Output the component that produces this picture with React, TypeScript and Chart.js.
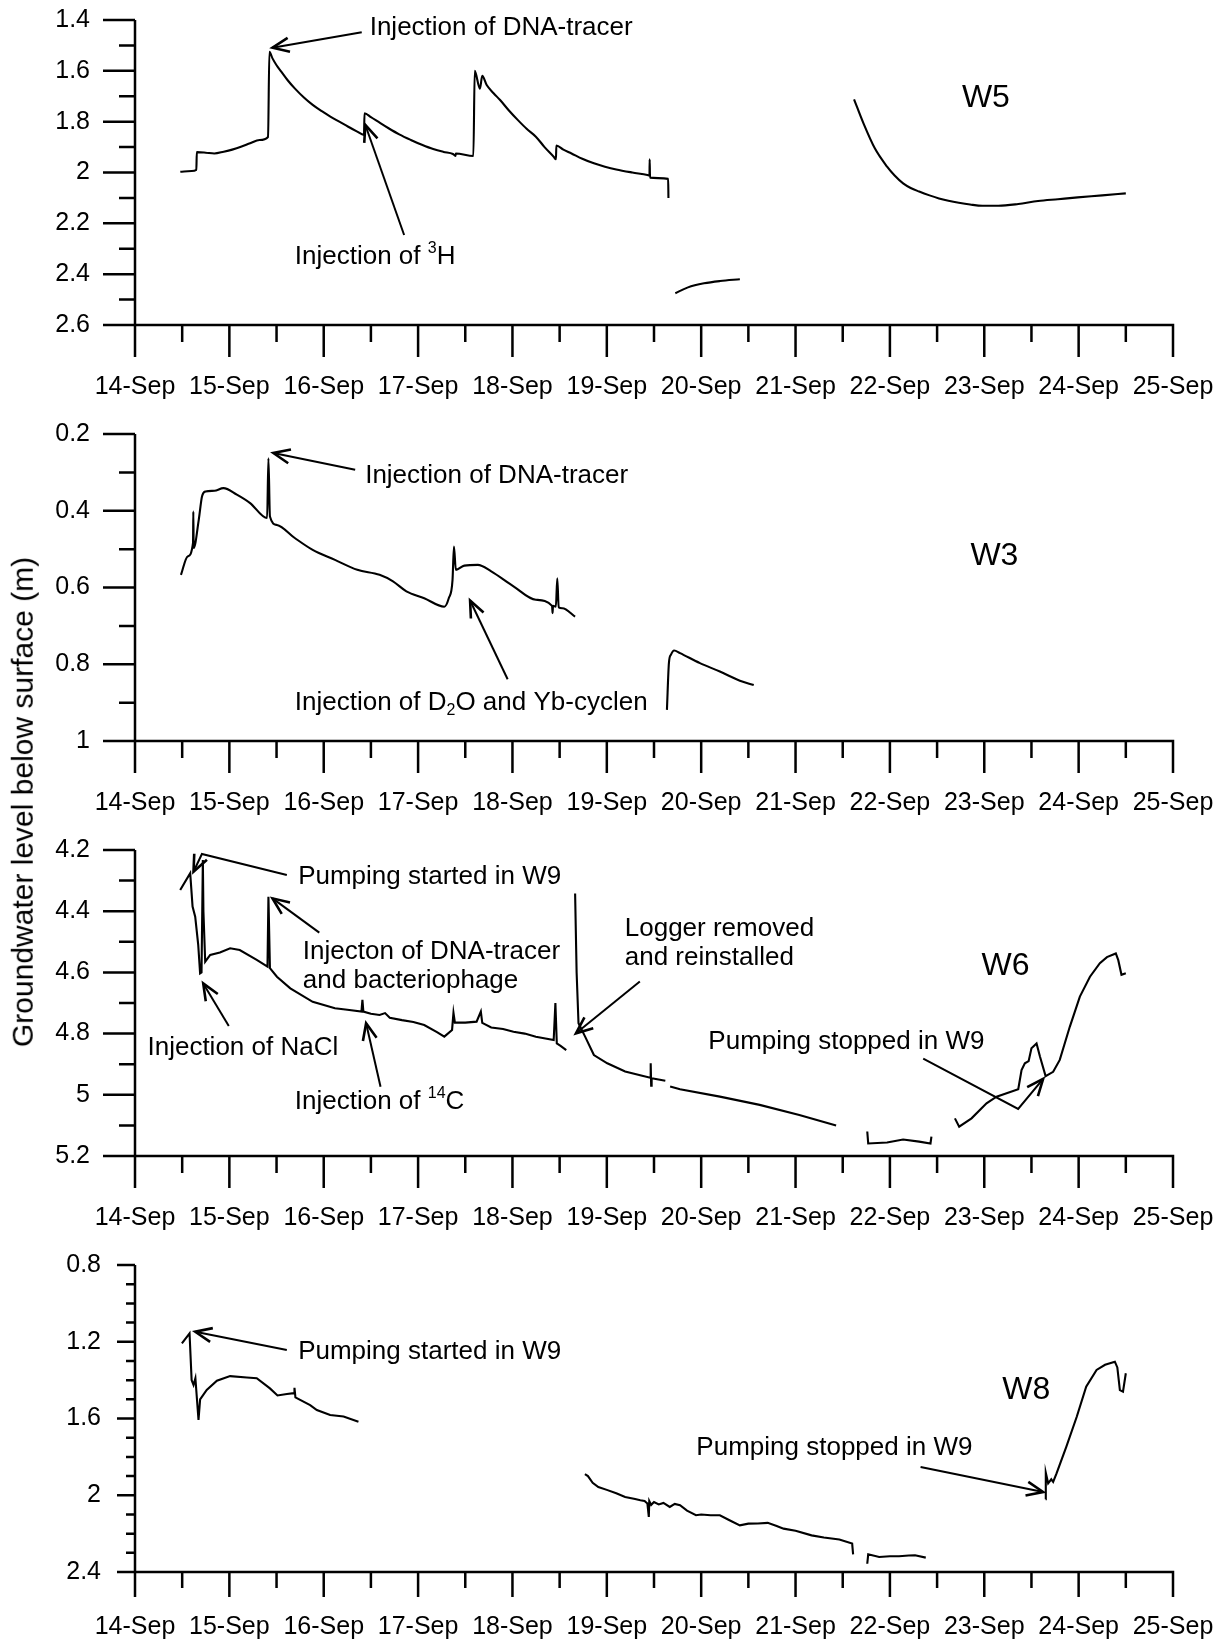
import React, { useEffect, useRef } from "react";
import { Chart, registerables } from "chart.js";

Chart.register(...registerables);

const FONT = "'Liberation Sans', Arial, Helvetica, sans-serif";
Chart.defaults.font.family = FONT;
Chart.defaults.color = "#000";

// ---------- x axis (days of September) ----------
const X_TICKS = [14, 15, 16, 17, 18, 19, 20, 21, 22, 23, 24, 25];
const X_MONTH = "Sep";

// ---------- W5 ----------
const W5_Y_TICKS = [1.4, 1.6, 1.8, 2, 2.2, 2.4, 2.6];
const W5_A: [number, number][] = [
  [14.48, 1.997], [14.6, 1.994], [14.65, 1.99], [14.655, 1.92], [14.75, 1.922], [14.84, 1.925],
  [14.94, 1.918], [15.03, 1.91], [15.13, 1.898], [15.22, 1.885], [15.32, 1.872], [15.41, 1.86],
  [15.424, 1.525], [15.457, 1.551], [15.5, 1.578], [15.55, 1.603], [15.62, 1.638], [15.693, 1.669],
  [15.79, 1.705], [15.883, 1.734], [15.98, 1.759], [16.07, 1.78], [16.17, 1.801], [16.26, 1.82],
  [16.35, 1.838], [16.427, 1.852], [16.432, 1.767], [16.5, 1.782], [16.6, 1.806], [16.687, 1.826],
  [16.8, 1.85], [16.923, 1.872], [17.04, 1.891], [17.16, 1.908], [17.27, 1.919], [17.37, 1.927],
  [17.396, 1.935], [17.4, 1.925], [17.586, 1.935], [17.6, 1.6], [17.655, 1.67], [17.68, 1.62],
  [17.727, 1.656], [17.8, 1.688], [17.869, 1.715], [17.96, 1.755], [18.058, 1.794], [18.15, 1.828],
  [18.248, 1.859], [18.34, 1.9], [18.437, 1.938], [18.461, 1.948], [18.465, 1.894], [18.54, 1.91],
  [18.626, 1.925], [18.74, 1.946], [18.863, 1.964], [18.98, 1.977], [19.1, 1.988], [19.27, 2.0],
  [19.43, 2.01], [19.452, 2.012], [19.454, 1.948], [19.458, 2.02], [19.65, 2.025], [19.653, 2.1],
];
const W5_B: [number, number][] = [
  [19.726, 2.475], [19.86, 2.452], [20.03, 2.436], [20.2, 2.427], [20.41, 2.42],
];
const W5_C: [number, number][] = [
  [21.62, 1.712], [21.72, 1.807], [21.84, 1.905], [21.97, 1.977], [22.05, 2.012], [22.14, 2.043],
  [22.22, 2.061], [22.31, 2.075], [22.42, 2.09], [22.52, 2.102], [22.62, 2.111], [22.73, 2.119],
  [22.85, 2.126], [22.98, 2.131], [23.15, 2.131], [23.36, 2.124], [23.57, 2.112], [23.78, 2.105],
  [23.99, 2.098], [24.25, 2.09], [24.5, 2.082],
];

// ---------- W3 ----------
const W3_Y_TICKS = [0.2, 0.4, 0.6, 0.8, 1];
const W3_A: [number, number][] = [
  [14.487, 0.567], [14.558, 0.519], [14.615, 0.484], [14.618, 0.402], [14.622, 0.497], [14.676, 0.423],
  [14.71, 0.363], [14.747, 0.35], [14.842, 0.348], [14.937, 0.341], [15.079, 0.358], [15.22, 0.38],
  [15.4, 0.419], [15.414, 0.263], [15.43, 0.415], [15.504, 0.437], [15.693, 0.471], [15.883, 0.502],
  [16.119, 0.528], [16.356, 0.554], [16.592, 0.567], [16.734, 0.584], [16.876, 0.61], [17.065, 0.628],
  [17.278, 0.65], [17.325, 0.628], [17.365, 0.58], [17.38, 0.493], [17.4, 0.554], [17.49, 0.543],
  [17.633, 0.541], [17.775, 0.558], [18.011, 0.597], [18.248, 0.632], [18.42, 0.648], [18.425, 0.667],
  [18.43, 0.648], [18.46, 0.65], [18.475, 0.576], [18.49, 0.652], [18.53, 0.654], [18.664, 0.676],
];
const W3_B: [number, number][] = [
  [19.637, 0.919], [19.658, 0.797], [19.68, 0.775], [19.713, 0.764], [19.776, 0.771], [19.987, 0.797],
  [20.198, 0.819], [20.41, 0.843], [20.557, 0.854],
];

// ---------- W6 ----------
const W6_Y_TICKS = [4.2, 4.4, 4.6, 4.8, 5, 5.2];
const W6_A: [number, number][] = [
  [14.479, 4.331], [14.585, 4.276], [14.61, 4.385], [14.638, 4.418], [14.67, 4.51], [14.69, 4.603],
  [14.705, 4.6], [14.719, 4.233], [14.725, 4.4], [14.744, 4.565], [14.797, 4.543], [14.9, 4.535],
  [15.008, 4.521], [15.11, 4.527], [15.29, 4.559], [15.404, 4.581], [15.414, 4.353], [15.43, 4.586],
  [15.504, 4.614], [15.646, 4.652], [15.883, 4.696], [16.119, 4.717], [16.25, 4.722], [16.4, 4.728],
  [16.41, 4.69], [16.42, 4.728], [16.5, 4.735], [16.592, 4.739], [16.65, 4.733], [16.7, 4.748],
  [16.829, 4.756], [16.95, 4.762], [17.065, 4.772], [17.2, 4.795], [17.278, 4.81], [17.36, 4.788],
  [17.375, 4.732], [17.39, 4.764], [17.5, 4.764], [17.62, 4.761], [17.665, 4.728], [17.68, 4.765],
  [17.775, 4.78], [17.9, 4.785], [18.011, 4.794], [18.13, 4.8], [18.248, 4.81], [18.437, 4.821],
  [18.455, 4.7], [18.47, 4.832], [18.51, 4.84], [18.57, 4.854],
];
const W6_B: [number, number][] = [
  [18.664, 4.342], [18.68, 4.6], [18.7, 4.766], [18.77, 4.81], [18.863, 4.87], [19.005, 4.897],
  [19.194, 4.924], [19.46, 4.944], [19.465, 4.897], [19.47, 4.97], [19.475, 4.946], [19.62, 4.954],
];
const W6_C: [number, number][] = [
  [19.671, 4.973], [19.776, 4.982], [20.198, 5.006], [20.62, 5.033], [21.04, 5.066], [21.43, 5.1],
];
const W6_D: [number, number][] = [
  [21.76, 5.12], [21.77, 5.159], [21.97, 5.156], [22.14, 5.146], [22.31, 5.153], [22.43, 5.159],
  [22.44, 5.137],
];
const W6_E: [number, number][] = [
  [22.689, 5.077], [22.734, 5.104], [22.865, 5.077], [23.024, 5.028], [23.13, 5.006], [23.36, 4.982],
  [23.395, 4.919], [23.43, 4.897], [23.47, 4.89], [23.5, 4.848], [23.554, 4.832], [23.59, 4.875],
  [23.65, 4.939], [23.73, 4.925], [23.8, 4.886], [23.907, 4.777], [24.013, 4.679], [24.12, 4.614],
  [24.225, 4.57], [24.3, 4.55], [24.394, 4.538], [24.42, 4.56], [24.454, 4.608], [24.5, 4.603],
];

// ---------- W8 ----------
const W8_Y_TICKS = [0.8, 1.2, 1.6, 2, 2.4];
const W8_A: [number, number][] = [
  [14.497, 1.208], [14.578, 1.156], [14.6, 1.4], [14.62, 1.425], [14.64, 1.39], [14.673, 1.608],
  [14.69, 1.5], [14.76, 1.451], [14.868, 1.403], [15.008, 1.379], [15.185, 1.386], [15.29, 1.39],
  [15.43, 1.443], [15.51, 1.48], [15.61, 1.472], [15.685, 1.468], [15.69, 1.44], [15.7, 1.49],
  [15.75, 1.503], [15.856, 1.53], [15.927, 1.556], [16.068, 1.582], [16.21, 1.59], [16.368, 1.617],
];
const W8_B: [number, number][] = [
  [18.768, 1.89], [18.8, 1.9], [18.85, 1.935], [18.91, 1.957], [19.0, 1.972], [19.1, 1.99],
  [19.194, 2.009], [19.3, 2.02], [19.355, 2.026], [19.4, 2.03], [19.43, 2.043], [19.445, 2.113],
  [19.45, 2.03], [19.47, 2.05], [19.5, 2.035], [19.55, 2.048], [19.6, 2.04], [19.667, 2.061],
  [19.72, 2.045], [19.776, 2.052], [19.85, 2.08], [19.945, 2.104], [20.0, 2.1], [20.1, 2.104],
  [20.198, 2.104], [20.3, 2.13], [20.41, 2.157], [20.5, 2.148], [20.6, 2.147], [20.705, 2.144],
  [20.8, 2.16], [20.873, 2.174], [21.0, 2.185], [21.17, 2.209], [21.3, 2.22], [21.464, 2.231],
  [21.6, 2.252], [21.61, 2.308],
];
const W8_C: [number, number][] = [
  [21.76, 2.357], [21.77, 2.308], [21.886, 2.322], [22.0, 2.318], [22.097, 2.318], [22.2, 2.314],
  [22.266, 2.313], [22.38, 2.325],
];
const W8_D: [number, number][] = [
  [23.65, 2.021], [23.652, 1.883], [23.677, 1.938], [23.71, 1.917], [23.73, 1.93], [23.766, 1.886],
  [23.87, 1.747], [23.98, 1.591], [24.08, 1.434], [24.19, 1.347], [24.28, 1.32], [24.384, 1.304],
  [24.41, 1.334], [24.437, 1.452], [24.47, 1.46], [24.5, 1.364],
];

// ---------- annotations ----------
type Part = [string, string?];
type Note = { at: [number, number]; lines: Part[][]; size?: number; arrow?: [number, number][] };

const W5_NOTES: Note[] = [
  { at: [16.487, 1.431], lines: [[["Injection of DNA-tracer"]]], arrow: [[16.403, 1.448], [15.457, 1.509]] },
  { at: [15.693, 2.331], lines: [[["Injection of "], ["3", "sup"], ["H"]]], arrow: [[16.852, 2.246], [16.441, 1.813]] },
  { at: [22.763, 1.707], lines: [[["W5"]]], size: 32 },
];
const W3_NOTES: Note[] = [
  { at: [16.439, 0.308], lines: [[["Injection of DNA-tracer"]]], arrow: [[16.333, 0.293], [15.466, 0.2496]] },
  { at: [15.693, 0.901], lines: [[["Injection of D"], ["2", "sub"], ["O and Yb-cyclen"]]], arrow: [[17.949, 0.839], [17.551, 0.634]] },
  { at: [22.853, 0.519], lines: [[["W3"]]], size: 32 },
];
const W6_NOTES: Note[] = [
  { at: [15.729, 4.287], lines: [[["Pumping started in W9"]]], arrow: [[15.609, 4.282], [14.709, 4.213], [14.62, 4.271]] },
  { at: [15.779, 4.532], lines: [[["Injecton of DNA-tracer"]], [["and bacteriophage"]]], arrow: [[15.953, 4.47], [15.457, 4.358]] },
  { at: [14.132, 4.848], lines: [[["Injection of NaCl"]]], arrow: [[14.994, 4.775], [14.723, 4.636]] },
  { at: [15.693, 5.022], lines: [[["Injection of "], ["14", "sup"], ["C"]]], arrow: [[16.602, 4.974], [16.449, 4.766]] },
  { at: [19.19, 4.456], lines: [[["Logger removed"]], [["and reinstalled"]]], arrow: [[19.35, 4.63], [18.673, 4.799]] },
  { at: [20.076, 4.828], lines: [[["Pumping stopped in W9"]]], arrow: [[22.353, 4.882], [23.359, 5.046], [23.624, 4.948]] },
  { at: [22.971, 4.581], lines: [[["W6"]]], size: 32 },
];
const W8_NOTES: Note[] = [
  { at: [15.729, 1.252], lines: [[["Pumping started in W9"]]], arrow: [[15.609, 1.243], [14.638, 1.148]] },
  { at: [19.949, 1.755], lines: [[["Pumping stopped in W9"]]], arrow: [[22.325, 1.853], [23.624, 1.983]] },
  { at: [23.191, 1.451], lines: [[["W8"]]], size: 32 },
];

type PanelCfg = {
  top: number; height: number;
  yTicks: number[]; yMinor: number;
  segs: [number, number][][]; smooth: boolean; notes: Note[];
  yTickLen: [number, number]; xTickLen: [number, number]; yPad: number; xPad: number;
};

const PANELS: PanelCfg[] = [
  { top: 0, height: 405, yTicks: W5_Y_TICKS, yMinor: 0.1, segs: [W5_A, W5_B, W5_C], smooth: true, notes: W5_NOTES,
    yTickLen: [32, 16], xTickLen: [32, 17], yPad: 45, xPad: 47 },
  { top: 414, height: 407, yTicks: W3_Y_TICKS, yMinor: 0.1, segs: [W3_A, W3_B], smooth: true, notes: W3_NOTES,
    yTickLen: [32, 16], xTickLen: [32, 17], yPad: 45, xPad: 47 },
  { top: 830, height: 406, yTicks: W6_Y_TICKS, yMinor: 0.1, segs: [W6_A, W6_B, W6_C, W6_D, W6_E], smooth: false, notes: W6_NOTES,
    yTickLen: [32, 16], xTickLen: [32, 17], yPad: 45, xPad: 47 },
  { top: 1245, height: 407, yTicks: W8_Y_TICKS, yMinor: 0.1, segs: [W8_A, W8_B, W8_C, W8_D], smooth: false, notes: W8_NOTES,
    yTickLen: [18, 9], xTickLen: [25, 16], yPad: 34, xPad: 40 },
];

function drawParts(ctx: CanvasRenderingContext2D, parts: Part[], x: number, y: number, size: number) {
  let cx = x;
  for (const [t, mode] of parts) {
    const s = mode ? Math.round(size * 0.6) : size;
    ctx.font = `${s}px ${FONT}`;
    const dy = mode === "sup" ? -size * 0.3 : mode === "sub" ? size * 0.3 : 0;
    ctx.fillText(t, cx, y + dy);
    cx += ctx.measureText(t).width;
  }
}

function makeDecor(cfg: PanelCfg) {
  return {
    id: "decor",
    afterDraw(chart: any) {
      const ctx: CanvasRenderingContext2D = chart.ctx;
      const { left, right, top, bottom } = chart.chartArea;
      const xs = chart.scales.x;
      const ys = chart.scales.y;
      ctx.save();
      ctx.strokeStyle = "#000";
      ctx.lineWidth = 2.5;
      ctx.lineCap = "butt";
      ctx.beginPath();
      ctx.moveTo(left, top);
      ctx.lineTo(left, bottom + 1.25);
      ctx.moveTo(left - 1.25, bottom);
      ctx.lineTo(right + 1.25, bottom);
      const x0 = X_TICKS[0], x1 = X_TICKS[X_TICKS.length - 1];
      for (let i = 0; i <= (x1 - x0) * 2; i++) {
        const d = x0 + i / 2;
        const px = xs.getPixelForValue(d);
        const len = i % 2 === 0 ? cfg.xTickLen[0] : cfg.xTickLen[1];
        ctx.moveTo(px, bottom);
        ctx.lineTo(px, bottom + len);
      }
      const y0 = cfg.yTicks[0], y1 = cfg.yTicks[cfg.yTicks.length - 1];
      const n = Math.round((y1 - y0) / cfg.yMinor);
      for (let i = 0; i <= n; i++) {
        const v = y0 + i * cfg.yMinor;
        const major = cfg.yTicks.some((t) => Math.abs(t - v) < 1e-6);
        const py = ys.getPixelForValue(v);
        ctx.moveTo(left - (major ? cfg.yTickLen[0] : cfg.yTickLen[1]), py);
        ctx.lineTo(left, py);
      }
      ctx.stroke();

      // annotations
      ctx.fillStyle = "#000";
      ctx.textBaseline = "middle";
      ctx.textAlign = "left";
      for (const note of cfg.notes) {
        const size = note.size ?? 26;
        const tx = xs.getPixelForValue(note.at[0]);
        const ty = ys.getPixelForValue(note.at[1]);
        note.lines.forEach((parts, k) => drawParts(ctx, parts, tx, ty + k * 29, size));
        if (note.arrow && note.arrow.length > 1) {
          const pts = note.arrow.map(([d, v]) => [xs.getPixelForValue(d), ys.getPixelForValue(v)]);
          ctx.lineWidth = 2;
          ctx.beginPath();
          ctx.moveTo(pts[0][0], pts[0][1]);
          for (let i = 1; i < pts.length; i++) ctx.lineTo(pts[i][0], pts[i][1]);
          ctx.stroke();
          const [tx2, ty2] = pts[pts.length - 1];
          const [px2, py2] = pts[pts.length - 2];
          const ang = Math.atan2(ty2 - py2, tx2 - px2);
          const L = 18, A = 0.4;
          ctx.lineWidth = 2.6;
          ctx.beginPath();
          ctx.moveTo(tx2 - L * Math.cos(ang - A), ty2 - L * Math.sin(ang - A));
          ctx.lineTo(tx2, ty2);
          ctx.lineTo(tx2 - L * Math.cos(ang + A), ty2 - L * Math.sin(ang + A));
          ctx.stroke();
        }
      }
      ctx.restore();
    },
  };
}

function Panel({ cfg }: { cfg: PanelCfg }) {
  const ref = useRef<HTMLCanvasElement>(null);
  useEffect(() => {
    const canvas = ref.current;
    if (!canvas) return;
    const chart = new Chart(canvas, {
      type: "line",
      data: {
        datasets: cfg.segs.map((seg) => ({
          data: seg.map(([x, y]) => ({ x, y })),
          borderColor: "#000",
          borderWidth: 2.1,
          pointRadius: 0,
          fill: false,
          tension: 0,
          cubicInterpolationMode: cfg.smooth ? ("monotone" as const) : ("default" as const),
        })),
      },
      options: {
        animation: false,
        responsive: false,
        maintainAspectRatio: false,
        events: [],
        layout: { padding: { top: 20, right: 52, left: 0, bottom: 0 } },
        plugins: { legend: { display: false }, tooltip: { enabled: false } },
        scales: {
          x: {
            type: "linear",
            min: X_TICKS[0],
            max: X_TICKS[X_TICKS.length - 1],
            grid: { display: false, drawTicks: false },
            border: { display: false },
            afterBuildTicks: (s: any) => { s.ticks = X_TICKS.map((v) => ({ value: v })); },
            afterFit: (s: any) => { s.height = 80; s.paddingLeft = 0; s.paddingRight = 0; },
            ticks: {
              autoSkip: false, maxRotation: 0, minRotation: 0, padding: cfg.xPad,
              font: { size: 25, family: FONT }, color: "#000",
              callback: (v: any) => `${v}-${X_MONTH}`,
            },
          },
          y: {
            type: "linear",
            reverse: true,
            min: cfg.yTicks[0],
            max: cfg.yTicks[cfg.yTicks.length - 1],
            grid: { display: false, drawTicks: false },
            border: { display: false },
            afterBuildTicks: (s: any) => { s.ticks = cfg.yTicks.map((v) => ({ value: v })); },
            afterFit: (s: any) => { s.width = 135; s.paddingTop = 0; s.paddingBottom = 0; },
            ticks: {
              autoSkip: false, padding: cfg.yPad,
              font: { size: 25, family: FONT }, color: "#000",
              callback: (v: any) => String(Math.round(Number(v) * 10) / 10),
            },
          },
        },
      },
      plugins: [makeDecor(cfg)],
    });
    return () => chart.destroy();
  }, [cfg]);
  return (
    <canvas
      ref={ref}
      width={1225}
      height={cfg.height}
      style={{ position: "absolute", left: 0, top: cfg.top, width: "1225px", height: `${cfg.height}px`, display: "block" }}
    />
  );
}

export default function App() {
  return (
    <div style={{ position: "absolute", left: 0, top: 0, width: 1225, height: 1640, overflow: "hidden", background: "#fff" }}>
      {PANELS.map((p, i) => (
        <Panel key={i} cfg={p} />
      ))}
      <div
        style={{
          position: "absolute",
          left: 23,
          top: 802,
          transform: "translate(-50%, -50%) rotate(-90deg)",
          fontFamily: FONT,
          fontSize: 30,
          whiteSpace: "nowrap",
          color: "#000",
          lineHeight: 1.15,
        }}
      >
        Groundwater level below surface (m)
      </div>
    </div>
  );
}
